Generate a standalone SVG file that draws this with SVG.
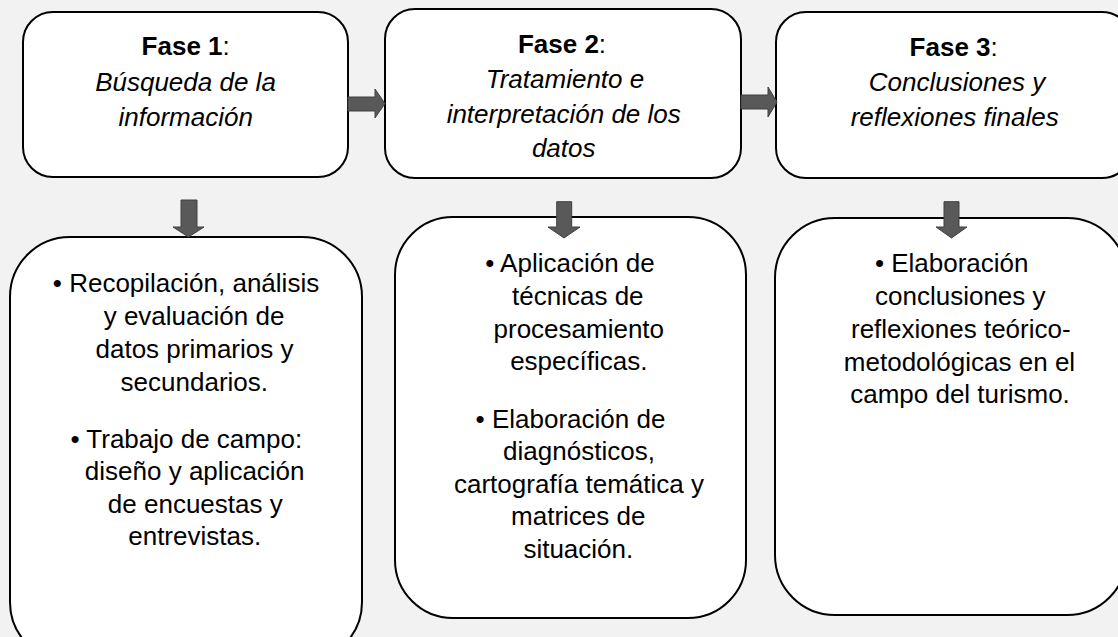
<svg xmlns="http://www.w3.org/2000/svg" width="1118" height="637" viewBox="0 0 1118 637">
<style>
.box{fill:#ffffff;stroke:#000000;stroke-width:2}
.arr{fill:#595959;stroke:#404040;stroke-width:1}
text{font-family:"Liberation Sans",Arial,sans-serif;font-size:26px;fill:#000000;text-anchor:middle}
.b{font-weight:bold}
.i{font-style:italic}
</style>
<rect x="0" y="0" width="1118" height="637" fill="#f2f2f2"/>
<g id="fase1">
<rect class="box" x="23" y="12" width="325" height="165" rx="30" ry="30"/>
<text x="185.7" y="55"><tspan class="b">Fase 1</tspan>:</text>
<text class="i" x="185.5" y="90.7">Búsqueda de la</text>
<text class="i" x="185.7" y="126">información</text>
</g>
<g id="fase2">
<rect class="box" x="385" y="9" width="356" height="169" rx="30" ry="30"/>
<text x="562" y="53.3"><tspan class="b">Fase 2</tspan>:</text>
<text class="i" x="565" y="88.3">Tratamiento e</text>
<text class="i" x="563.7" y="123.3">interpretación de los</text>
<text class="i" x="563.7" y="156.7">datos</text>
</g>
<g id="fase3">
<rect class="box" x="776" y="12" width="356" height="166" rx="30" ry="30"/>
<text x="953.7" y="56"><tspan class="b">Fase 3</tspan>:</text>
<text class="i" x="957" y="90.7">Conclusiones y</text>
<text class="i" x="954.7" y="126">reflexiones finales</text>
</g>
<g id="detalle1">
<rect class="box" x="10" y="237" width="352" height="425" rx="60" ry="60"/>
<text x="186" y="291.7">• Recopilación, análisis</text>
<text x="194" y="325">y evaluación de</text>
<text x="194.5" y="358">datos primarios y</text>
<text x="194.3" y="390.7">secundarios.</text>
<text x="186.3" y="448">• Trabajo de campo:</text>
<text x="194.7" y="480">diseño y aplicación</text>
<text x="195.3" y="512.7">de encuestas y</text>
<text x="194.7" y="545">entrevistas.</text>
</g>
<g id="detalle2">
<rect class="box" x="395" y="217" width="351" height="401" rx="58" ry="58"/>
<text x="570" y="271.7">• Aplicación de</text>
<text x="577.8" y="305">técnicas de</text>
<text x="578.8" y="338.3">procesamiento</text>
<text x="578.8" y="370">específicas.</text>
<text x="570.5" y="428.3">• Elaboración de</text>
<text x="579" y="460">diagnósticos,</text>
<text x="579" y="493.3">cartografía temática y</text>
<text x="578.3" y="525">matrices de</text>
<text x="578.3" y="558.3">situación.</text>
</g>
<g id="detalle3">
<rect class="box" x="775" y="218" width="352" height="397" rx="60" ry="60"/>
<text x="951.7" y="271.7">• Elaboración</text>
<text x="960.3" y="305">conclusiones y</text>
<text x="960.8" y="338">reflexiones teórico-</text>
<text x="959.5" y="370.5">metodológicas en el</text>
<text x="960" y="403.3">campo del turismo.</text>
</g>
<g id="connectors">
<path class="arr" d="M348,97 H375 V89 L385,103.5 L375,118 V111 H348 Z"/>
<path class="arr" d="M741,95 H768 V87 L777,102 L768,117 V109 H741 Z"/>
<path class="arr" d="M181,200 H197 V227 H204 L188.5,237 L173,227 H181 Z"/>
<path class="arr" d="M556.7,201.7 H571.7 V227 H580 L564,238 L548,227 H556.7 Z"/>
<path class="arr" d="M944,201.7 H959 V227 H967 L951.5,238 L936,227 H944 Z"/>
</g>
</svg>
